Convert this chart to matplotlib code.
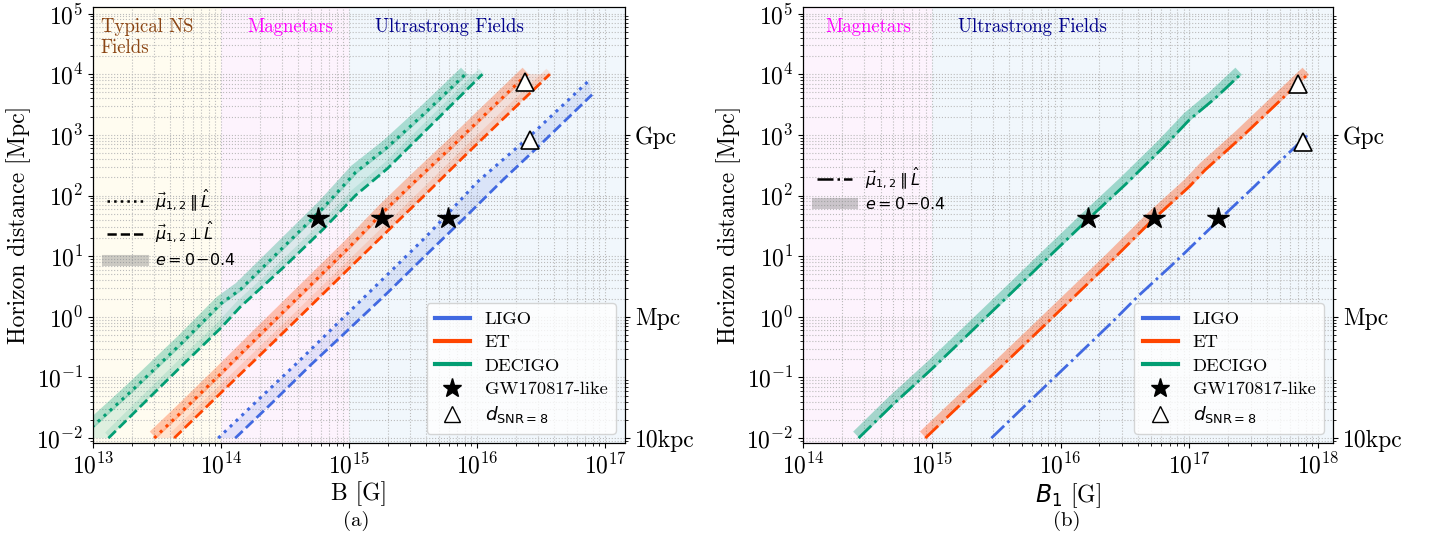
import numpy as np
import matplotlib.pyplot as plt
from matplotlib.lines import Line2D
from matplotlib.font_manager import FontProperties
from matplotlib.transforms import offset_copy

plt.rcParams['font.family'] = 'cmr10'
plt.rcParams['mathtext.fontset'] = 'cm'
plt.rcParams['axes.formatter.use_mathtext'] = True

# ---- data ----
# (a) dipole moments parallel (dotted) / perpendicular (dashed) to L
B_decigo_par = [7.9e12, 2.0e13, 5.0e13, 1.0e14, 1.41e14, 3.16e14, 6.3e14, 1.12e15, 2.0e15, 4.0e15, 8.1e15]
d_decigo_par = [0.01, 0.060, 0.38, 1.66, 2.8, 15, 63, 240, 630, 2400, 1e4]
B_decigo_perp = [1.32e13, 2.5e13, 5.0e13, 1.0e14, 1.41e14, 3.16e14, 6.3e14, 1.12e15, 2.0e15, 4.0e15, 1.1e16]
d_decigo_perp = [0.01, 0.038, 0.16, 0.66, 1.45, 6.9, 28, 100, 280, 1200, 1e4]

B_et_par = [3.0e13, 5.0e13, 1.0e14, 2.0e14, 4.0e14, 1.0e15, 1.82e15, 3.16e15, 6.3e15, 1.26e16, 2.45e16]
d_et_par = [0.01, 0.028, 0.117, 0.50, 2.1, 14, 52, 160, 630, 2600, 1e4]
B_et_perp = [4.3e13, 1.0e14, 2.0e14, 4.0e14, 1.0e15, 2.0e15, 4.0e15, 7.9e15, 1.58e16, 3.7e16]
d_et_perp = [0.01, 0.056, 0.23, 0.95, 6.3, 26, 107, 440, 1800, 1e4]

B_ligo_par = [9.5e13, 2.0e14, 4.0e14, 1.0e15, 2.0e15, 4.0e15, 5.9e15, 1.0e16, 2.5e16, 7.5e16]
d_ligo_par = [0.01, 0.045, 0.18, 1.2, 5.0, 21, 50, 166, 890, 7900]
B_ligo_perp = [1.29e14, 2.5e14, 5.0e14, 1.0e15, 2.0e15, 4.0e15, 7.9e15, 1.58e16, 3.16e16, 7.9e16]
d_ligo_perp = [0.01, 0.038, 0.16, 0.63, 2.5, 10.5, 42, 178, 710, 4600]

star_B_a = [5.7e14, 1.8e15, 5.9e15]
star_d_a = [42, 42, 42]
tri_B_a = [2.37e16, 2.57e16]
tri_d_a = [7400, 810]

# (b) dipole moments parallel to L, B_1
B_decigo_b = [2.7e14, 5.0e14, 1.0e15, 2.0e15, 4.0e15, 7.9e15, 1.62e16, 3.16e16, 6.3e16, 1.0e17, 1.58e17, 2.5e17]
d_decigo_b = [0.01, 0.036, 0.138, 0.56, 2.3, 9.3, 40, 150, 630, 1780, 4000, 1e4]
B_et_b = [8.9e14, 1.58e15, 3.16e15, 6.3e15, 1.26e16, 2.5e16, 5.2e16, 1.0e17, 1.32e17, 2.5e17, 5.0e17, 8.3e17]
d_et_b = [0.01, 0.032, 0.126, 0.51, 2.1, 8.5, 40, 141, 263, 890, 3600, 1e4]
B_ligo_b = [2.9e15, 6.3e15, 1.26e16, 2.5e16, 4.0e16, 7.9e16, 1.66e17, 3.16e17, 5.0e17, 8.3e17]
d_ligo_b = [0.01, 0.049, 0.2, 0.81, 2.2, 8.3, 38, 138, 360, 1000]

star_B_b = [1.62e16, 5.3e16, 1.66e17]
star_d_b = [42, 42, 42]
tri_B_b = [6.9e17, 7.6e17]
tri_d_b = [6900, 760]

c_ligo = '#4169E1'
c_et = '#FF4500'
c_decigo = '#029E73'

fig = plt.figure(figsize=(14.29, 5.46), dpi=100)
axa = fig.add_axes([0.0651, 0.1886, 0.3723, 0.7985])
axb = fig.add_axes([0.5619, 0.1886, 0.3709, 0.7985])

ylim = (8.3e-3, 1.28e5)
tick_fs = 17


def setup(ax, xlim):
    ax.set_xscale('log')
    ax.set_yscale('log')
    ax.set_xlim(xlim)
    ax.set_ylim(ylim)
    ax.set_axisbelow(True)
    ax.grid(True, which='both', ls=':', color='#bbbbbb', lw=0.8)
    ax.tick_params(labelsize=tick_fs)
    ax.set_ylabel('Horizon distance [Mpc]', fontsize=17)
    tw = ax.twinx()
    tw.set_yscale('log')
    tw.set_ylim(ylim)
    tw.set_yticks([1e-2, 1, 1e3])
    tw.set_yticklabels(['10kpc', 'Mpc', 'Gpc'])
    tw.tick_params(labelsize=tick_fs)
    return tw


setup(axa, (1e13, 1.43e17))
setup(axb, (1e14, 1.3e18))

# field regions
axa.axvspan(1e13, 1e14, color='#fffbe6', alpha=0.6, lw=0, zorder=0)
axa.axvspan(1e14, 1e15, color='#fdf0fd', alpha=0.8, lw=0, zorder=0)
axa.axvspan(1e15, 1e18, color='#eef5fc', alpha=0.8, lw=0, zorder=0)
axb.axvspan(1e14, 1e15, color='#fdf0fd', alpha=0.8, lw=0, zorder=0)
axb.axvspan(1e15, 1e19, color='#eef5fc', alpha=0.8, lw=0, zorder=0)

txt_fs = 13.5
axa.text(1.15e13, 0.975, 'Typical NS\nFields', transform=axa.get_xaxis_transform(),
         color='#8B4513', fontsize=txt_fs, va='top', ha='left', linespacing=1.2)
axa.text(1.6e14, 0.975, 'Magnetars', transform=axa.get_xaxis_transform(),
         color='magenta', fontsize=txt_fs, va='top', ha='left')
axa.text(1.6e15, 0.975, 'Ultrastrong Fields', transform=axa.get_xaxis_transform(),
         color='#00008B', fontsize=txt_fs, va='top', ha='left')
axb.text(1.5e14, 0.975, 'Magnetars', transform=axb.get_xaxis_transform(),
         color='magenta', fontsize=txt_fs, va='top', ha='left')
axb.text(1.6e15, 0.975, 'Ultrastrong Fields', transform=axb.get_xaxis_transform(),
         color='#00008B', fontsize=txt_fs, va='top', ha='left')

# ---- panel (a) ----
lifted_a = offset_copy(axa.transData, fig=fig, x=-1, y=3, units='dots')
for Bp, dp, Bq, dq, c, thick in [
        (B_decigo_par, d_decigo_par, B_decigo_perp, d_decigo_perp, c_decigo, True),
        (B_et_par, d_et_par, B_et_perp, d_et_perp, c_et, True),
        (B_ligo_par, d_ligo_par, B_ligo_perp, d_ligo_perp, c_ligo, False)]:
    axa.fill(np.r_[Bp, Bq[::-1]], np.r_[dp, dq[::-1]], color=c, alpha=0.13, lw=0, zorder=1)
    if thick:
        axa.plot(Bp, dp, color=c, lw=7, alpha=0.3, transform=lifted_a, solid_capstyle='butt', zorder=2)
        axa.plot(Bq, dq, color=c, lw=5, alpha=0.12, transform=lifted_a, solid_capstyle='butt', zorder=2)
    axa.plot(Bp, dp, color=c, ls=':', lw=2.2, zorder=3)
    axa.plot(Bq, dq, color=c, ls='--', lw=2, zorder=3)

axa.plot(star_B_a, star_d_a, '*', color='black', ms=16, ls='none', zorder=5)
axa.plot(tri_B_a, tri_d_a, '^', mfc='white', mec='black', ms=13, mew=1.2, ls='none', zorder=5)

# ---- panel (b) ----
lifted_b = offset_copy(axb.transData, fig=fig, x=-2, y=3, units='dots')
for Bv, dv, c, thick in [(B_decigo_b, d_decigo_b, c_decigo, True),
                         (B_et_b, d_et_b, c_et, True),
                         (B_ligo_b, d_ligo_b, c_ligo, False)]:
    if thick:
        axb.plot(Bv, dv, color=c, lw=7, alpha=0.35, transform=lifted_b, solid_capstyle='butt', zorder=2)
    axb.plot(Bv, dv, color=c, ls='-.', lw=2, zorder=3)

axb.plot(star_B_b, star_d_b, '*', color='black', ms=16, ls='none', zorder=5)
axb.plot(tri_B_b, tri_d_b, '^', mfc='white', mec='black', ms=13, mew=1.2, ls='none', zorder=5)

axa.set_xlabel('B [G]', fontsize=17, labelpad=2)
axb.set_xlabel('$B_1$ [G]', fontsize=17, labelpad=2, math_fontfamily='dejavusans')

# ---- legends ----
det_handles = [Line2D([], [], color=c_ligo, lw=3),
               Line2D([], [], color=c_et, lw=3),
               Line2D([], [], color=c_decigo, lw=3),
               Line2D([], [], marker='*', color='black', ms=14, ls='none'),
               Line2D([], [], marker='^', mfc='white', mec='black', ms=12, ls='none')]
det_labels = ['LIGO', 'ET', 'DECIGO', 'GW170817-like', r'$d_{\rm SNR=8}$']
det_prop = FontProperties(family='cmr10', size=13.3, math_fontfamily='dejavusans')
sans_prop = FontProperties(family='DejaVu Sans', size=11.5, math_fontfamily='dejavusans')
band_handle = Line2D([], [], color='gray', lw=8, alpha=0.4)

for ax in (axa, axb):
    leg = ax.legend(det_handles, det_labels, loc='lower right', prop=det_prop,
                    framealpha=0.8, handlelength=1.9, borderpad=0.45, labelspacing=0.4)
    ax.add_artist(leg)

axa.legend([Line2D([], [], color='black', ls=':', lw=1.8),
            Line2D([], [], color='black', ls='--', lw=1.8), band_handle],
           [r'$\vec{\mu}_{1,2}\parallel\hat{L}$', r'$\vec{\mu}_{1,2}\perp\hat{L}$', r'$e=0\!-\!0.4$'],
           loc='upper left', bbox_to_anchor=(0.0, 0.62), frameon=False, prop=sans_prop,
           handlelength=2.2, labelspacing=0.45)
axb.legend([Line2D([], [], color='black', ls='-.', lw=1.8), band_handle],
           [r'$\vec{\mu}_{1,2}\parallel\hat{L}$', r'$e=0\!-\!0.4$'],
           loc='upper left', bbox_to_anchor=(0.0, 0.67), frameon=False, prop=sans_prop,
           handlelength=2.2, labelspacing=0.3)

fig.text(356 / 1429, 1 - 521 / 546, '(a)', ha='center', va='center', fontsize=15)
fig.text(1067 / 1429, 1 - 521 / 546, '(b)', ha='center', va='center', fontsize=15)

fig.savefig('out.png', dpi=100)
